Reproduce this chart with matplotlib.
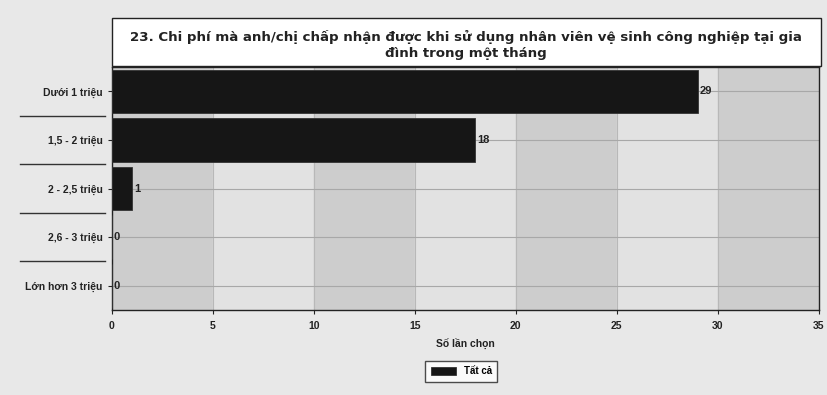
import matplotlib.pyplot as plt
from matplotlib.patches import Rectangle

plt.rcParams['font.family'] = ['Liberation Sans', 'DejaVu Sans']

# data
categories = ['Dưới 1 triệu', '1,5 - 2 triệu', '2 - 2,5 triệu', '2,6 - 3 triệu', 'Lớn hơn 3 triệu']
counts = [29, 18, 1, 0, 0]
x_ticks = [0, 5, 10, 15, 20, 25, 30, 35]
title = '23. Chi phí mà anh/chị chấp nhận được khi sử dụng nhân viên vệ sinh công nghiệp tại gia\nđình trong một tháng'
xlabel = 'Số lần chọn'
legend_label = 'Tất cả'

fig = plt.figure(figsize=(8.28, 3.95), dpi=100)
fig.patch.set_facecolor('#e8e8e8')

ax = fig.add_axes([0.135, 0.215, 0.854, 0.615])
ax.set_facecolor('#e0e0e0')

# alternating vertical bands
for i in range(len(x_ticks) - 1):
    col = '#cdcdcd' if i % 2 == 0 else '#e2e2e2'
    ax.axvspan(x_ticks[i], x_ticks[i + 1], color=col, zorder=0)
    ax.axvline(x_ticks[i], color='#b8b8b8', lw=0.8, zorder=1)

ypos = list(range(len(categories)))
for y in ypos:
    ax.axhline(y, color='#a8a8a8', lw=0.8, zorder=1)

bars = ax.barh(ypos, counts, height=0.9, color='#161616', edgecolor='#333333',
               lw=0.6, zorder=3, label=legend_label)
for y, v in zip(ypos, counts):
    ax.text(v + 0.1, y, str(v), va='center', ha='left', fontsize=8,
            fontweight='bold', color='#222222', zorder=4)

ax.set_xlim(x_ticks[0], x_ticks[-1])
ax.set_ylim(len(categories) - 0.5, -0.5)
ax.set_xticks(x_ticks)
ax.set_yticks(ypos)
ax.set_yticklabels(categories)
ax.tick_params(axis='both', labelsize=7.5, length=3, color='#222222', width=0.8)
ax.tick_params(axis='x', pad=5)
for lab in ax.get_xticklabels() + ax.get_yticklabels():
    lab.set_fontweight('bold')
    lab.set_color('#222222')
for s in ax.spines.values():
    s.set_color('#222222')
    s.set_linewidth(1.0)

ax.set_xlabel(xlabel, fontsize=7.5, fontweight='bold', color='#222222', labelpad=5)

# separator strokes between category labels
for i in range(len(categories) - 1):
    ax.plot([-0.13, -0.01], [i + 0.5, i + 0.5], transform=ax.get_yaxis_transform(),
            color='#333333', lw=1.0, clip_on=False)

# title box
fig.patches.append(Rectangle((0.135, 0.833), 0.856, 0.122, transform=fig.transFigure,
                             facecolor='white', edgecolor='#222222', lw=1.0))
fig.text(0.563, 0.887, title, ha='center', va='center', fontsize=9.6,
         fontweight='bold', color='#222222', linespacing=1.3,
         family=['DejaVu Sans'])

leg = fig.legend(loc='center', bbox_to_anchor=(0.557, 0.06), fontsize=7,
                 frameon=True, fancybox=False, edgecolor='#222222',
                 handlelength=2.6, handleheight=0.9, borderpad=0.55)
for t in leg.get_texts():
    t.set_fontweight('bold')
leg.get_frame().set_facecolor('white')

fig.savefig('out.png', dpi=100, facecolor=fig.get_facecolor())
